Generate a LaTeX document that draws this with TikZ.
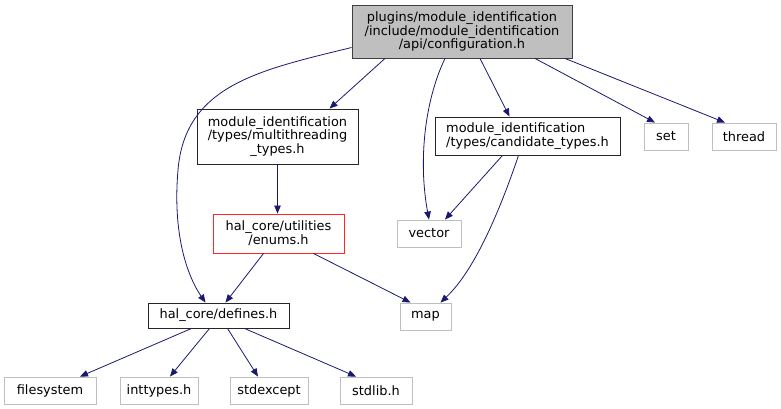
\documentclass[tikz,border=0pt]{standalone}
\usepackage{fontspec}
\setmainfont{DejaVu Sans}
\usetikzlibrary{arrows.meta}
\definecolor{edgec}{HTML}{191970}
\definecolor{extc}{HTML}{BFBFBF}
\definecolor{rootfill}{HTML}{BFBFBF}
\tikzset{
  base/.style={draw, line width=0.9pt, inner sep=0pt, align=center, font=\fontsize{12.9}{13.8}\selectfont, text=black},
  mainbox/.style={base, draw=black!85},
  extbox/.style={base, draw=extc},
  redbox/.style={base, draw=red!85!white},
  rootbox/.style={base, draw=black!75, fill=rootfill},
  edge/.style={draw=edgec, line width=0.8pt, -{Triangle[length=8pt,width=6.5pt]}},
}
\begin{document}
\begin{tikzpicture}[x=1pt,y=-1pt]
\useasboundingbox (0,0) rectangle (781,409);
\node[rootbox, minimum width=220, minimum height=53] (root) at (462,31.5) {plugins/module\_identification\\/include/module\_identification\\/api/configuration.h};
\node[mainbox, minimum width=161, minimum height=55] (mt) at (277.5,136.5) {module\_identification\\/types/multithreading\\\_types.h};
\node[mainbox, minimum width=185, minimum height=38, align=left] (cand) at (527.5,136) {module\_identification\\/types/candidate\_types.h};
\node[extbox, minimum width=44, minimum height=27] (set) at (666,136.5) {set};
\node[extbox, minimum width=64, minimum height=27] (thread) at (744,136.5) {thread};
\node[redbox, minimum width=131, minimum height=39] (enums) at (278.5,233.5) {hal\_core/utilities\\/enums.h};
\node[extbox, minimum width=64, minimum height=27] (vector) at (429,233.5) {vector};
\node[mainbox, minimum width=141, minimum height=25] (defines) at (218.5,315.5) {hal\_core/defines.h};
\node[extbox, minimum width=51, minimum height=27] (map) at (425.5,316.5) {map};
\node[extbox, minimum width=92, minimum height=27] (fs) at (50,390.5) {filesystem};
\node[extbox, minimum width=78, minimum height=27] (inttypes) at (159,390.5) {inttypes.h};
\node[extbox, minimum width=78, minimum height=27] (stdexcept) at (269,390.5) {stdexcept};
\node[extbox, minimum width=72, minimum height=27] (stdlib) at (376,390.5) {stdlib.h};

\path[edge] ([yshift=-16]root.west) .. controls (260,70) and (185,85) .. (178,170) .. controls (172,240) and (190,280) .. ([xshift=-13]defines.north);
\path[edge] ([xshift=-77]root.south) -- ([xshift=52]mt.north);
\path[edge] ([xshift=-17]root.south) .. controls (425,100) and (418,160) .. (vector.north);
\path[edge] ([xshift=18]root.south) -- ([xshift=-18]cand.north);
\path[edge] ([xshift=73]root.south) -- ([xshift=-11]set.north);
\path[edge] ([xshift=103]root.south) -- ([xshift=-19]thread.north);
\path[edge] (mt.south) -- (enums.north -| mt.south);
\path[edge] ([xshift=-15]enums.south) -- ([xshift=7]defines.north);
\path[edge] ([xshift=35]enums.south) -- ([xshift=-15]map.north);
\path[edge] ([xshift=-25]cand.south) -- ([xshift=16]vector.north);
\path[edge] ([xshift=-9]cand.south) .. controls (500,210) and (475,270) .. ([xshift=15]map.north);
\path[edge] ([xshift=-27]defines.south) -- ([xshift=30]fs.north);
\path[edge] ([xshift=-9]defines.south) -- ([xshift=11]inttypes.north);
\path[edge] ([xshift=9]defines.south) -- ([xshift=-11]stdexcept.north);
\path[edge] ([xshift=26]defines.south) -- ([xshift=-20]stdlib.north);
\end{tikzpicture}
\end{document}
